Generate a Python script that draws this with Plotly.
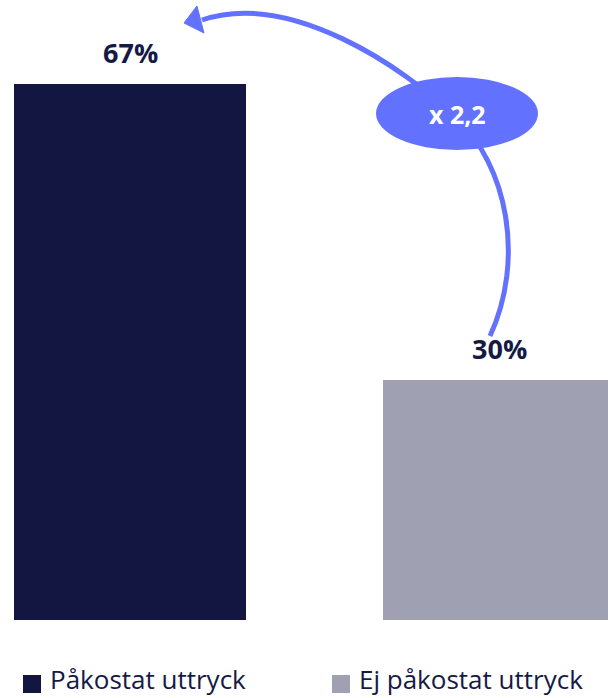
import plotly.graph_objects as go

# Data
categories = ["Påkostat uttryck", "Ej påkostat uttryck"]
values = [67, 30]
value_labels = ["67%", "30%"]
colors = ["#121640", "#A0A0B3"]
ratio_label = "x 2,2"

W, H = 608, 698
PLOT_BOTTOM = 620          # pixel row of the bar baseline
PX_PER_UNIT_X = 369.0      # horizontal distance between bar centres
PX_PER_PCT = 8.0           # vertical pixels per percentage point
ACCENT = "#6272FF"
TEXT_DARK = "#151A45"


def to_paper(x, y):
    """Convert pixel coordinates (top-left origin) to paper coordinates."""
    return x / W, (PLOT_BOTTOM - y) / PLOT_BOTTOM


def path(cmds):
    out = []
    for c in cmds:
        if isinstance(c, str):
            out.append(c)
        else:
            px, py = to_paper(*c)
            out.append(f"{px:.5f},{py:.5f}")
    return " ".join(out)


x_pos = list(range(len(categories)))

fig = go.Figure()
fig.add_trace(go.Bar(
    x=x_pos, y=values, width=232 / PX_PER_UNIT_X,
    marker=dict(color=colors, line=dict(width=0)),
    hoverinfo="skip", showlegend=False,
))

# Value labels above the bars
for xi, v, lab in zip(x_pos, values, value_labels):
    fig.add_annotation(x=xi, y=v, text=f"<b>{lab}</b>", showarrow=False,
                       yanchor="bottom", yshift=11,
                       font=dict(family="Open Sans", size=27, color=TEXT_DARK))

shapes = []
# Curved arrow from the small bar up to the large one
shapes.append(dict(
    type="path", xref="paper", yref="paper",
    path=path(["M", (490, 336), "C", (525, 260), (508, 165), (455, 117),
               "C", (405, 68), (290, -10), (202, 20)]),
    line=dict(color=ACCENT, width=5), fillcolor="rgba(0,0,0,0)",
))
shapes.append(dict(
    type="path", xref="paper", yref="paper",
    path=path(["M", (184, 23), "L", (197, 6), "L", (204, 33), "Z"]),
    line=dict(color=ACCENT, width=1), fillcolor=ACCENT,
))
# Ratio badge
x0, y0 = to_paper(376, 150)
x1, y1 = to_paper(538, 77)
shapes.append(dict(type="circle", xref="paper", yref="paper",
                   x0=x0, y0=y0, x1=x1, y1=y1,
                   line=dict(color=ACCENT, width=0), fillcolor=ACCENT))
cx, cy = to_paper(457, 114)
fig.add_annotation(xref="paper", yref="paper", x=cx, y=cy, text=f"<b>{ratio_label}</b>",
                   showarrow=False, xanchor="center", yanchor="middle",
                   font=dict(family="Open Sans", size=25, color="white"))

# Legend: square swatch + label for each category
legend_x = [23, 332]
for lx, name, col in zip(legend_x, categories, colors):
    sx0, sy0 = to_paper(lx, 693)
    sx1, sy1 = to_paper(lx + 18, 675)
    shapes.append(dict(type="rect", xref="paper", yref="paper",
                       x0=sx0, y0=sy0, x1=sx1, y1=sy1,
                       line=dict(width=0), fillcolor=col))
    tx, ty = to_paper(lx + 25, 679)
    fig.add_annotation(xref="paper", yref="paper", x=tx, y=ty, text=name,
                       showarrow=False, xanchor="left", yanchor="middle",
                       font=dict(family="Open Sans", size=26, color=TEXT_DARK))

fig.update_layout(
    width=W, height=H,
    margin=dict(l=0, r=0, t=0, b=H - PLOT_BOTTOM),
    paper_bgcolor="white", plot_bgcolor="white",
    shapes=shapes,
    xaxis=dict(range=[-130 / PX_PER_UNIT_X, (W - 130) / PX_PER_UNIT_X],
               visible=False, fixedrange=True),
    yaxis=dict(range=[0, PLOT_BOTTOM / PX_PER_PCT], visible=False, fixedrange=True),
    bargap=0,
)

fig.write_html("out.html")
